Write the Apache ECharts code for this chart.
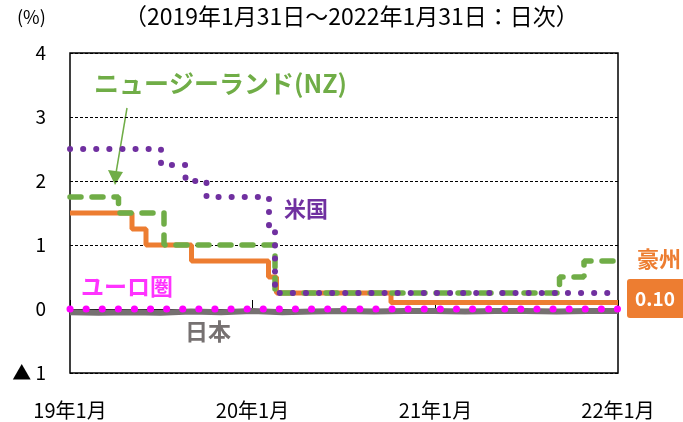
<!DOCTYPE html>
<html>
<head>
    <meta charset="utf-8"/>
    <title>政策金利の推移</title>
    <script src="https://cdn.jsdelivr.net/npm/echarts@6/dist/echarts.min.js"></script>
    <style>
        html, body { margin: 0; padding: 0; background: #fff; }
        #main { width: 683px; height: 422px; }
    </style>
</head>
<body>
<div id="main"></div>
<script>
    // 各国の政策金利（変更日と水準）
    var usDates = ['2019-01-31', '2019-08-01', '2019-09-19', '2019-10-31', '2020-03-04', '2020-03-16', '2022-01-31'];
    var usRates = [2.5, 2.25, 2.0, 1.75, 1.25, 0.25, 0.25];

    var nzDates = ['2019-01-31', '2019-05-08', '2019-08-07', '2020-03-16', '2021-10-06', '2021-11-24', '2022-01-31'];
    var nzRates = [1.75, 1.5, 1.0, 0.25, 0.5, 0.75, 0.75];

    var auDates = ['2019-01-31', '2019-06-04', '2019-07-02', '2019-10-01', '2020-03-03', '2020-03-19', '2020-11-03', '2022-01-31'];
    var auRates = [1.5, 1.25, 1.0, 0.75, 0.5, 0.25, 0.1, 0.1];

    var euDates = ['2019-01-31', '2022-01-31'];
    var euRates = [0, 0];

    // 日本（無担保コール翌日物、月次の目安）
    var jpDates = ['2019-01-31', '2019-03-29', '2019-05-31', '2019-07-31', '2019-09-30', '2019-11-29',
        '2020-01-31', '2020-03-31', '2020-05-29', '2020-07-31', '2020-09-30', '2020-11-30',
        '2021-01-29', '2021-03-31', '2021-05-31', '2021-07-30', '2021-09-30', '2021-11-30', '2022-01-31'];
    var jpRates = [-0.05, -0.06, -0.05, -0.06, -0.04, -0.05,
        -0.03, -0.05, -0.04, -0.03, -0.04, -0.03,
        -0.03, -0.04, -0.03, -0.03, -0.04, -0.03, -0.03];

    var xTicks = ['2019-01-31', '2020-01-31', '2021-01-31', '2022-01-31'];
    var yMin = -1, yMax = 4;

    var FONT = '"Noto Sans CJK JP", "Noto Sans", sans-serif';

    function ts(d) {
        return +new Date(d + 'T00:00:00');
    }

    function toPairs(dates, rates) {
        var out = [];
        for (var i = 0; i < dates.length; i++) {
            out.push([ts(dates[i]), rates[i]]);
        }
        return out;
    }

    var tickValues = xTicks.map(ts);

    var myChart = echarts.init(document.getElementById('main'), null, {renderer: 'canvas'});
    var option = {
        animation: false,
        grid: {
            left: 70, right: 65, top: 53, bottom: 49,
            show: true,
            borderColor: '#000',
            borderWidth: 1.5
        },
        xAxis: [{
            type: 'value',
            min: tickValues[0],
            max: tickValues[tickValues.length - 1],
            position: 'bottom',
            axisLine: {onZero: true, lineStyle: {color: '#000', width: 1}},
            axisTick: {show: true, customValues: tickValues, length: 9, inside: true, lineStyle: {color: '#000'}},
            axisLabel: {show: false},
            splitLine: {show: false}
        }, {
            type: 'value',
            min: tickValues[0],
            max: tickValues[tickValues.length - 1],
            position: 'bottom',
            axisLine: {show: false, onZero: false},
            axisTick: {show: false},
            splitLine: {show: false},
            axisLabel: {
                customValues: tickValues,
                margin: 27,
                color: '#000',
                fontSize: 20,
                fontFamily: FONT,
                showMinLabel: true,
                showMaxLabel: true,
                formatter: function (v) {
                    var d = new Date(v);
                    return String(d.getFullYear()).slice(2) + '年' + (d.getMonth() + 1) + '月';
                }
            }
        }],
        yAxis: {
            type: 'value',
            min: yMin,
            max: yMax,
            interval: 1,
            axisLine: {show: false},
            axisTick: {show: false},
            axisLabel: {
                margin: 24,
                color: '#000',
                fontSize: 19,
                fontFamily: FONT,
                formatter: function (v) {
                    return v < 0 ? '▲ ' + Math.abs(v) : String(v);
                }
            },
            splitLine: {
                show: true,
                lineStyle: {color: '#000', type: [3, 2], width: 1}
            }
        },
        series: [{
            name: '日本',
            type: 'line',
            data: toPairs(jpDates, jpRates),
            showSymbol: false,
            lineStyle: {color: '#767171', width: 6}
        }, {
            name: 'ユーロ圏',
            type: 'line',
            step: 'end',
            data: toPairs(euDates, euRates),
            showSymbol: false,
            lineStyle: {color: '#FF00FF', width: 7, type: [0.1, 16], cap: 'round'}
        }, {
            name: '豪州',
            type: 'line',
            step: 'end',
            data: toPairs(auDates, auRates),
            showSymbol: false,
            lineStyle: {color: '#ED7D31', width: 5}
        }, {
            name: 'ニュージーランド(NZ)',
            type: 'line',
            step: 'end',
            data: toPairs(nzDates, nzRates),
            showSymbol: false,
            lineStyle: {color: '#70AD47', width: 5.5, type: [11, 11], cap: 'round'}
        }, {
            name: '米国',
            type: 'line',
            step: 'end',
            data: toPairs(usDates, usRates),
            showSymbol: false,
            lineStyle: {color: '#7030A0', width: 6, type: [0.1, 13], cap: 'round'}
        }],
        graphic: [
            {type: 'text', left: 17, top: 8, style: {text: '(%)', font: '18px ' + FONT, fill: '#000'}},
            {type: 'text', left: 124, top: 5, style: {text: '（2019年1月31日～2022年1月31日：日次）', font: '23px ' + FONT, fill: '#000'}},
            {type: 'text', left: 94, top: 71, style: {text: 'ニュージーランド(NZ)', font: 'bold 25px ' + FONT, fill: '#70AD47'}},
            {type: 'line', shape: {x1: 127, y1: 108, x2: 116, y2: 173}, style: {stroke: '#70AD47', lineWidth: 1.5}},
            {type: 'polygon', shape: {points: [[115, 185], [108, 170], [123, 172]]}, style: {fill: '#70AD47'}},
            {type: 'text', left: 284, top: 198, style: {text: '米国', font: 'bold 22px ' + FONT, fill: '#7030A0'}},
            {type: 'text', left: 81, top: 275, style: {text: 'ユーロ圏', font: 'bold 23px ' + FONT, fill: '#FF33FF'}},
            {type: 'text', left: 185, top: 320, style: {text: '日本', font: 'bold 23px ' + FONT, fill: '#767171'}},
            {type: 'text', left: 637, top: 248, style: {text: '豪州', font: 'bold 22px ' + FONT, fill: '#ED7D31'}},
            {type: 'rect', shape: {x: 627, y: 279, width: 60, height: 39, r: 3}, style: {fill: '#ED7D31'}},
            {type: 'text', x: 655, y: 299, style: {text: '0.10', font: 'bold 19px ' + FONT, fill: '#fff', align: 'center', verticalAlign: 'middle'}}
        ]
    };
    myChart.setOption(option);

    window.onresize = function () {
        myChart.resize();
    };
</script>
</body>
</html>
